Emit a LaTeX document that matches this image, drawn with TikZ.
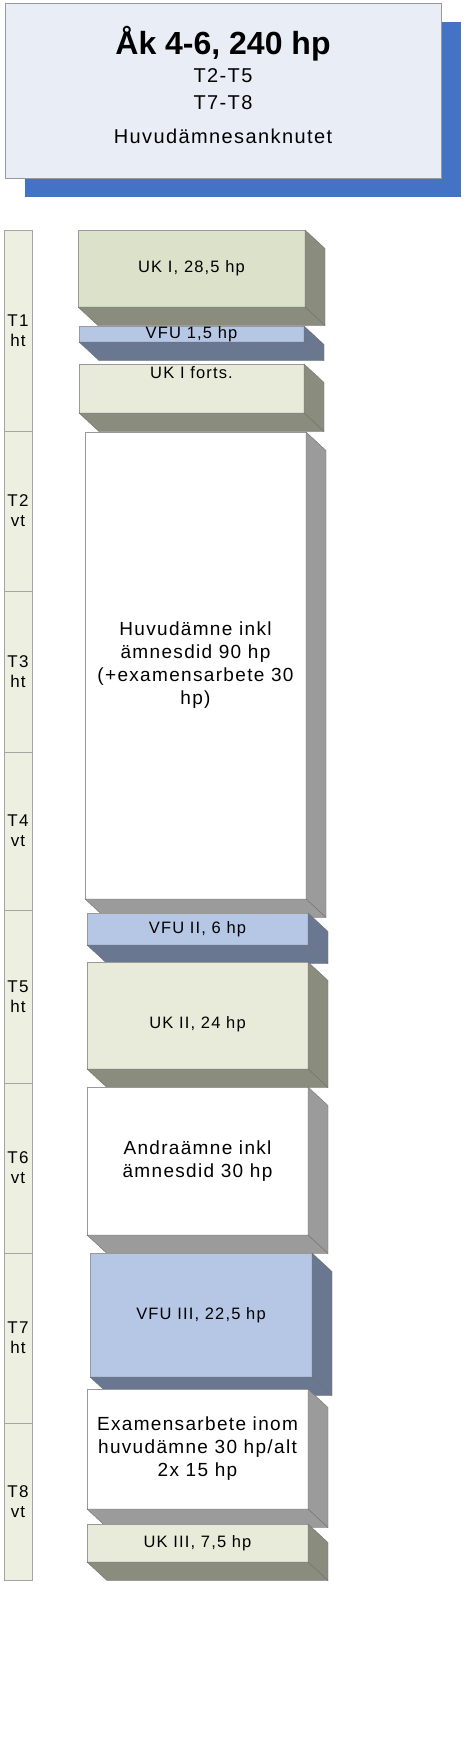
\documentclass[tikz,border=0pt]{standalone}
\usepackage{fontspec}
\setmainfont{Liberation Sans}[LetterSpace=7]
\newfontfamily\headfont{Liberation Sans}
\usetikzlibrary{positioning,shadows}
\definecolor{planblue}{HTML}{4472C4}
\definecolor{plansky}{HTML}{E8EDF6}
\definecolor{planterm}{HTML}{EDF0E1}
\definecolor{planolive}{HTML}{DCE1CA}
\definecolor{planpale}{HTML}{E8EBD9}
\definecolor{planoliveside}{HTML}{8A8C7E}
\definecolor{planvfu}{HTML}{B6C7E5}
\definecolor{planvfuside}{HTML}{6A7791}
\definecolor{plangrayside}{HTML}{9B9B9B}
\definecolor{planedge}{HTML}{7F7F7F}
\tikzset{
  titlebox/.style={draw=planedge!80,fill=plansky,minimum width=436pt,minimum height=175pt,inner sep=0pt,outer sep=0pt,
    drop shadow={shadow xshift=20pt,shadow yshift=-19pt,fill=planblue,opacity=1}},
  termbox/.style={draw=planedge!70,fill=planterm,minimum width=28pt,inner sep=0pt,outer sep=0pt,align=center,font=\fontsize{17}{20}\selectfont},
  block/.style={draw=planedge!80,inner sep=0pt,outer sep=0pt,align=center,minimum width=221pt,font=\fontsize{19}{23}\selectfont},
  ukblock/.style={block,fill=planpale,font=\fontsize{16.5}{20}\selectfont},
  vfublock/.style={block,fill=planvfu,font=\fontsize{16.5}{20}\selectfont},
  mainblock/.style={block,fill=white},
  blockface/.style={draw=planedge!90!black,fill=#1,line join=round},
}
% right and bottom face of a block, from its node
\newcommand{\blockdepth}[2]{%
  \path[blockface=#2] (#1.north east) -- ++(20,18.5) -- ([shift={(20,18.5)}]#1.south east) -- (#1.south east) -- cycle;
  \path[blockface=#2] (#1.south west) -- (#1.south east) -- ([shift={(20,18.5)}]#1.south east) -- ([shift={(20,18.5)}]#1.south west) -- cycle;
}

\begin{document}
\begin{tikzpicture}[x=1pt,y=-1pt]
  \useasboundingbox (0,0) rectangle (466,1744);
  % header
  \node[titlebox] (title) at (223,90.5) {};
  \node[align=center,inner sep=0pt,font=\fontsize{20}{27}\selectfont,yshift=5.5pt] (titletext) at (title.center)
    {{\headfont\bfseries\fontsize{32}{34}\selectfont Åk 4-6, 240 hp}\\[1pt]T2-T5\\T7-T8\\[7pt]Huvudämnesanknutet};
  % terms
  \node[termbox,minimum height=201pt] (t1) at (18,330.5) {T1\\ht};
  \node[termbox,minimum height=160pt,below=0pt of t1] (t2) {T2\\vt};
  \node[termbox,minimum height=161pt,below=0pt of t2] (t3) {T3\\ht};
  \node[termbox,minimum height=158pt,below=0pt of t3] (t4) {T4\\vt};
  \node[termbox,minimum height=173pt,below=0pt of t4] (t5) {T5\\ht};
  \node[termbox,minimum height=170pt,below=0pt of t5] (t6) {T6\\vt};
  \node[termbox,minimum height=170pt,below=0pt of t6] (t7) {T7\\ht};
  \node[termbox,minimum height=157pt,below=0pt of t7] (t8) {T8\\vt};
  % courses
  \node[ukblock,fill=planolive,minimum width=227pt,minimum height=77pt] (uk1) at (191.5,268.5) {UK I, 28,5 hp};
  \blockdepth{uk1}{planoliveside}
  \node[vfublock,minimum width=225pt,minimum height=16pt,text height=10pt,text depth=2pt] (vfu1) at (191.5,334) {VFU 1,5 hp};
  \blockdepth{vfu1}{planvfuside}
  \node[ukblock,minimum width=225pt,minimum height=49pt] (uk1f) at (191.5,388.5) {};
  \node[inner sep=0pt,font=\fontsize{16.5}{20}\selectfont,below=2pt of uk1f.north] (uk1ftext) {UK I forts.};
  \blockdepth{uk1f}{planoliveside}
  \node[mainblock,minimum height=467pt] (huv) at (195.5,665.5) {Huvudämne inkl\\ämnesdid 90 hp\\(+examensarbete 30\\hp)};
  \blockdepth{huv}{plangrayside}
  \node[vfublock,minimum height=32pt] (vfu2) at (197.5,929) {VFU II, 6 hp};
  \blockdepth{vfu2}{planvfuside}
  \node[ukblock,minimum height=107pt,text height=29pt] (uk2) at (197.5,1015.5) {UK II, 24 hp};
  \blockdepth{uk2}{planoliveside}
  \node[mainblock,minimum height=148pt] (andra) at (197.5,1161) {Andraämne inkl\\ämnesdid 30 hp};
  \blockdepth{andra}{plangrayside}
  \node[vfublock,minimum width=222pt,minimum height=124pt] (vfu3) at (201,1315) {VFU III, 22,5 hp};
  \blockdepth{vfu3}{planvfuside}
  \node[mainblock,minimum height=120pt] (exam) at (197.5,1449) {Examensarbete inom\\huvudämne 30 hp/alt\\2x 15 hp};
  \blockdepth{exam}{plangrayside}
  \node[ukblock,minimum height=38pt] (uk3) at (197.5,1543) {UK III, 7,5 hp};
  \blockdepth{uk3}{planoliveside}
\end{tikzpicture}
\end{document}
